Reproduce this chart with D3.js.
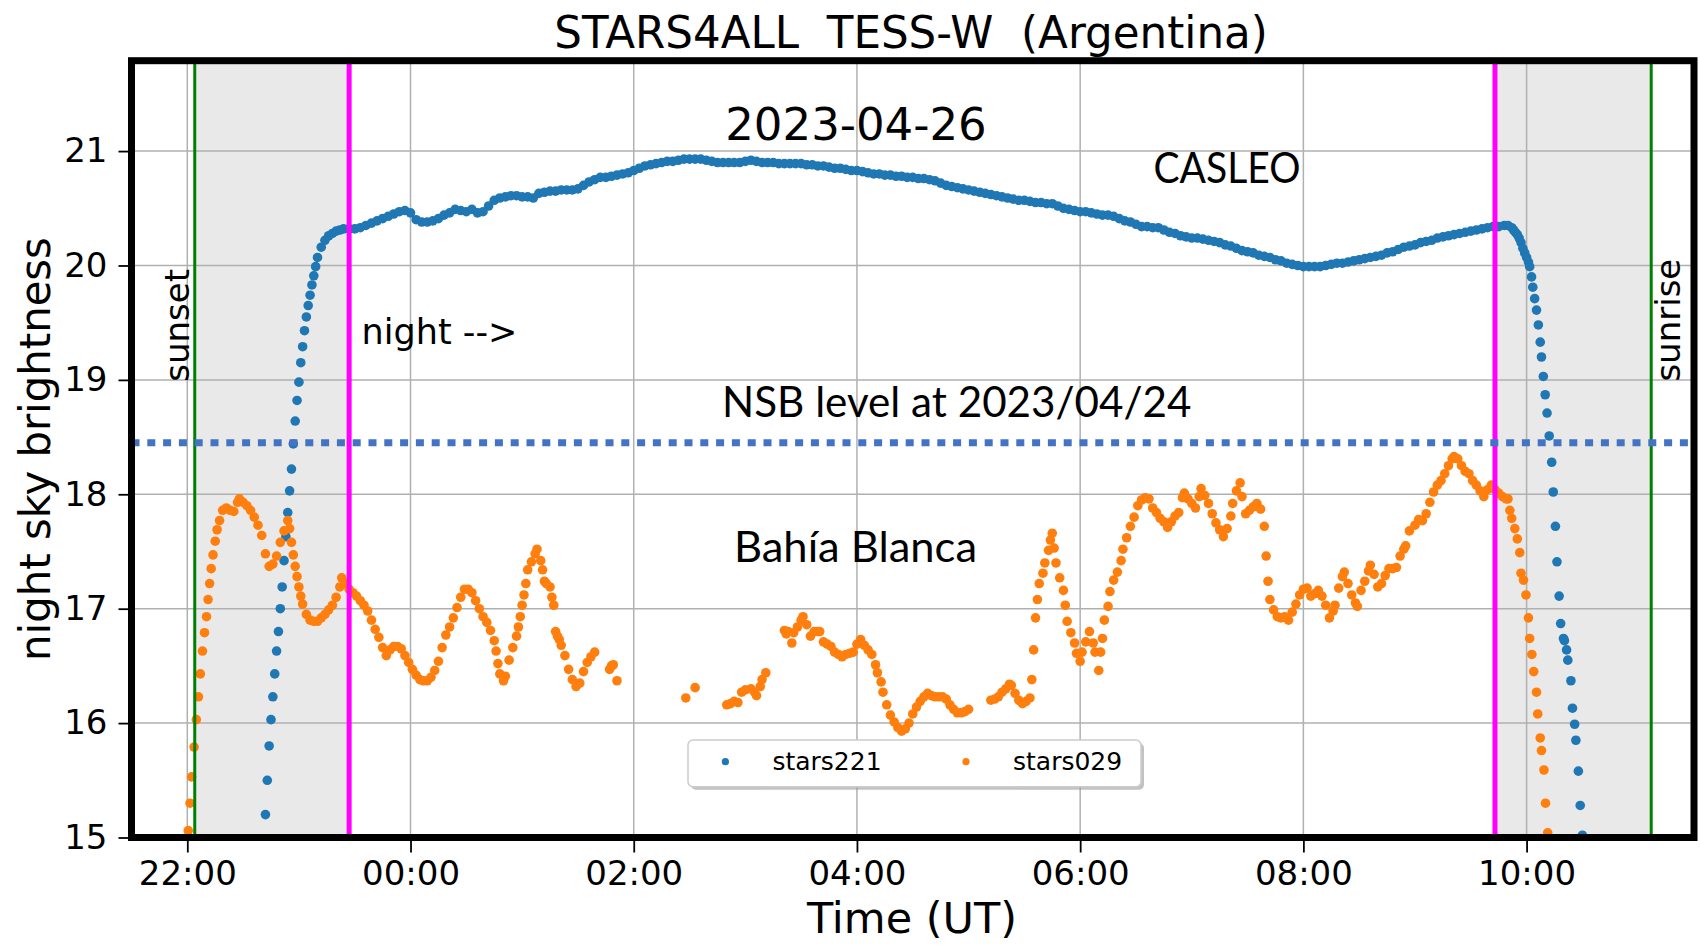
<!DOCTYPE html>
<html>
<head>
<meta charset="utf-8">
<script src="https://cdn.jsdelivr.net/npm/d3@7"></script>
<style>
body { margin: 0; background: #fff; }
svg { display: block; font-family: "DejaVu Sans", sans-serif; }
</style>
</head>
<body>
<svg id="chart" width="1700" height="951"></svg>
<script>
// stars221 (CASLEO), times UT
var blueTimes = [
  "22:42","22:43","22:44","22:45","22:46","22:47","22:48","22:49","22:50","22:51",
  "22:52","22:53","22:54","22:55","22:56","22:57","22:58","22:59","23:00","23:01",
  "23:02","23:03","23:04","23:05","23:06","23:07","23:08","23:09","23:10",
  "23:12","23:14","23:16","23:18","23:20","23:22","23:24",
  "23:27","23:30","23:33","23:36","23:39","23:42","23:45","23:48","23:51","23:54","23:57",
  "00:00","00:03","00:06","00:09","00:12","00:15","00:18","00:21","00:24","00:27","00:30","00:33","00:36","00:39","00:42","00:45","00:48","00:51","00:54","00:57",
  "01:00","01:03","01:06","01:09","01:12","01:15","01:18","01:21","01:24","01:27","01:30","01:33","01:36","01:39","01:42","01:45","01:48","01:51","01:54","01:57",
  "02:00","02:03","02:06","02:09","02:12","02:15","02:18","02:21","02:24","02:27","02:30","02:33","02:36","02:39","02:42","02:45","02:48","02:51","02:54","02:57",
  "03:00","03:03","03:06","03:09","03:12","03:15","03:18","03:21","03:24","03:27","03:30","03:33","03:36","03:39","03:42","03:45","03:48","03:51","03:54","03:57",
  "04:00","04:03","04:06","04:09","04:12","04:15","04:18","04:21","04:24","04:27","04:30","04:33","04:36","04:39","04:42","04:45","04:48","04:51","04:54","04:57",
  "05:00","05:03","05:06","05:09","05:12","05:15","05:18","05:21","05:24","05:27","05:30","05:33","05:36","05:39","05:42","05:45","05:48","05:51","05:54","05:57",
  "06:00","06:03","06:06","06:09","06:12","06:15","06:18","06:21","06:24","06:27","06:30","06:33","06:36","06:39","06:42","06:45","06:48","06:51","06:54","06:57",
  "07:00","07:03","07:06","07:09","07:12","07:15","07:18","07:21","07:24","07:27","07:30","07:33","07:36","07:39","07:42","07:45","07:48","07:51","07:54","07:57",
  "08:00","08:03","08:06","08:09","08:12","08:15","08:18","08:21","08:24","08:27","08:30","08:33","08:36","08:39","08:42","08:45","08:48","08:51","08:54","08:57",
  "09:00","09:03","09:06","09:09","09:12","09:15","09:18","09:21","09:24","09:27","09:30","09:33","09:36","09:39","09:42","09:45","09:48",
  "09:50","09:52","09:53","09:54","09:55","09:56","09:57","09:58","09:59","10:00","10:01",
  "10:01:40","10:02:40","10:03:20","10:04:20","10:05:20","10:06:20","10:07:20","10:08:00","10:09:00","10:10:00",
  "10:11:00","10:12:10","10:13:30","10:14:20","10:15:30","10:16:20","10:17:30","10:18:20","10:19:50","10:20:20",
  "10:21:30","10:22:10","10:23:50","10:24:40","10:25:50","10:26:30","10:27:50","10:28:50","10:30:00"
];
var blueValues = [
  15.20,15.50,15.80,16.03,16.23,16.43,16.63,16.80,17.00,17.19,
  17.42,17.63,17.84,18.03,18.22,18.44,18.64,18.82,18.98,19.15,
  19.29,19.43,19.55,19.65,19.74,19.83,19.91,19.99,20.07,
  20.16,20.22,20.26,20.28,20.30,20.31,20.32,
  20.32,20.32,20.33,20.35,20.37,20.39,20.41,20.43,20.45,20.47,20.48,
  20.46,20.40,20.38,20.38,20.39,20.41,20.44,20.46,20.49,20.48,20.47,20.49,20.46,20.47,20.52,20.57,20.59,20.60,20.61,20.61,
  20.60,20.60,20.59,20.63,20.64,20.65,20.65,20.66,20.66,20.66,20.67,20.70,20.73,20.75,20.77,20.77,20.78,20.79,20.80,20.81,
  20.83,20.85,20.87,20.88,20.89,20.90,20.91,20.91,20.92,20.93,20.93,20.93,20.93,20.92,20.91,20.90,20.90,20.90,20.90,20.90,
  20.91,20.92,20.91,20.90,20.90,20.90,20.89,20.89,20.89,20.89,20.89,20.88,20.88,20.87,20.87,20.86,20.85,20.85,20.84,20.83,
  20.83,20.82,20.81,20.80,20.80,20.79,20.79,20.78,20.78,20.77,20.77,20.76,20.76,20.75,20.74,20.72,20.70,20.69,20.68,20.67,
  20.66,20.65,20.64,20.63,20.62,20.61,20.60,20.59,20.58,20.57,20.57,20.56,20.55,20.55,20.54,20.54,20.52,20.50,20.49,20.48,
  20.47,20.47,20.46,20.45,20.44,20.44,20.43,20.41,20.39,20.38,20.36,20.34,20.34,20.33,20.33,20.31,20.29,20.28,20.26,20.25,
  20.24,20.24,20.23,20.22,20.21,20.20,20.18,20.17,20.15,20.13,20.12,20.11,20.09,20.08,20.07,20.05,20.04,20.02,20.01,20.00,
  19.99,19.99,19.99,19.99,20.00,20.01,20.02,20.02,20.03,20.04,20.05,20.06,20.07,20.08,20.09,20.11,20.12,20.14,20.16,20.17,
  20.18,20.20,20.21,20.22,20.24,20.25,20.26,20.27,20.28,20.29,20.30,20.31,20.32,20.33,20.34,20.34,20.35,
  20.35,20.33,20.31,20.29,20.27,20.24,20.20,20.15,20.11,20.07,20.03,
  19.99,19.90,19.81,19.71,19.61,19.48,19.33,19.20,19.03,18.87,
  18.71,18.51,18.28,18.02,17.72,17.41,17.11,16.87,16.74,16.72,
  16.64,16.55,16.37,16.13,15.99,15.85,15.58,15.28,15.02
];

// stars029 (Bahia Blanca), times UT
var orangeTimes = [
  "22:00:30","22:01:30","22:02:20","22:03:40","22:04:50","22:06:00","22:07:00","22:08:10","22:09:15","22:10:20",
  "22:11:10","22:12:00","22:12:50","22:13:50","22:15:00","22:16:00","22:17:20","22:19:00",
  "22:21","22:23","22:25","22:27","22:28","22:30","22:32","22:34","22:36","22:38",
  "22:40","22:42","22:44","22:46","22:48","22:50","22:52","22:54","22:55","22:56",
  "22:57","22:58","22:59","23:00","23:01","23:02","23:04","23:06","23:08","23:10",
  "23:12","23:14","23:16","23:18","23:20","23:22","23:23","23:25","23:27","23:29",
  "23:31","23:33","23:35","23:37","23:39","23:41","23:43","23:45","23:47","23:49",
  "23:51","23:53","23:55","23:57","23:59","00:01","00:03","00:05","00:07","00:09",
  "00:11","00:13","00:15","00:17","00:19","00:21","00:23","00:25","00:27","00:29",
  "00:31","00:33","00:35","00:37","00:39","00:41","00:43","00:45","00:46","00:47",
  "00:48","00:50","00:51","00:53","00:55","00:57","00:58","00:59","01:00","01:01",
  "01:02","01:03","01:05","01:07","01:08","01:10","01:11","01:12","01:13","01:15",
  "01:16","01:17","01:18","01:19","01:20","01:21","01:23","01:25","01:27","01:29",
  "01:31","01:33","01:35","01:37","01:39","01:47","01:48","01:49","01:51","02:28",
  "02:33","02:50","02:52","02:54","02:56","02:58","03:00","03:03","03:05","03:06",
  "03:08","03:09","03:11","03:21","03:22","03:23","03:25","03:26","03:28","03:30",
  "03:31","03:33","03:35","03:37","03:39","03:40","03:42","03:44","03:46","03:48",
  "03:50","03:52","03:54","03:56","03:58","04:00","04:02","04:04","04:06","04:08",
  "04:10","04:11","04:13","04:14","04:16","04:18","04:20","04:22","04:24","04:26",
  "04:28","04:30","04:32","04:34","04:36","04:38","04:40","04:42","04:44","04:46",
  "04:48","04:50","04:52","04:54","04:56","04:58","05:00","05:12","05:14","05:16",
  "05:18","05:20","05:22","05:23","05:25","05:27","05:29","05:31","05:33","05:34",
  "05:35","05:36","05:37","05:38","05:40","05:41","05:43","05:44","05:45","05:46",
  "05:47","05:49","05:51","05:52","05:53","05:55","05:57","05:58","06:00","06:01",
  "06:03","06:05","06:07","06:08","06:10","06:11","06:12","06:13","06:15","06:16",
  "06:18","06:20","06:22","06:23","06:25","06:27","06:29","06:31","06:33","06:35",
  "06:37","06:39","06:41","06:43","06:45","06:47","06:49","06:51","06:53","06:55",
  "06:56","06:58","07:00","07:02","07:04","07:05","07:07","07:09","07:11","07:13",
  "07:15","07:17","07:19","07:21","07:22","07:24","07:26","07:27","07:29","07:31",
  "07:33","07:35","07:37","07:39","07:40","07:41","07:42","07:44","07:46","07:48",
  "07:50","07:52","07:54","07:56","07:58","08:00","08:02","08:04","08:06","08:08",
  "08:10","08:12","08:14","08:16","08:17","08:19","08:21","08:22","08:24","08:26",
  "08:28","08:29","08:31","08:33","08:35","08:36","08:38","08:40","08:42","08:44",
  "08:46","08:48","08:50","08:52","08:54","08:55","08:57","09:00","09:02","09:04",
  "09:06","09:08","09:10","09:12","09:14","09:16","09:18","09:20","09:21","09:23",
  "09:25","09:27","09:29","09:31","09:33","09:35","09:37","09:39","09:41","09:43",
  "09:45","09:47","09:49","09:50","09:51","09:52","09:53:40","09:55","09:56:20","09:57",
  "09:58:20","09:59:40","10:01","10:01:40","10:02:50","10:03:50","10:05:20","10:06","10:07:20","10:08",
  "10:09:20","10:10:10","10:11:20"
];
var orangeValues = [
  15.06,15.30,15.53,15.79,16.03,16.23,16.43,16.63,16.79,16.93,
  17.08,17.22,17.35,17.47,17.59,17.69,17.77,17.86,
  17.88,17.86,17.85,17.93,17.96,17.93,17.90,17.86,17.80,17.73,
  17.64,17.48,17.37,17.39,17.46,17.58,17.68,17.77,17.70,17.58,
  17.47,17.37,17.28,17.19,17.11,17.04,16.95,16.90,16.89,16.89,
  16.92,16.95,16.99,17.03,17.10,17.19,17.27,17.22,17.17,17.14,
  17.11,17.07,17.03,16.98,16.90,16.82,16.75,16.66,16.59,16.64,
  16.67,16.67,16.65,16.59,16.53,16.47,16.42,16.38,16.37,16.37,
  16.40,16.46,16.54,16.66,16.77,16.84,16.92,17.01,17.10,17.17,
  17.17,17.14,17.07,17.00,16.93,16.88,16.81,16.72,16.63,16.52,
  16.43,16.37,16.41,16.55,16.66,16.76,16.84,16.93,17.03,17.12,
  17.22,17.34,17.41,17.48,17.52,17.42,17.34,17.24,17.22,17.19,
  17.10,17.03,16.80,16.76,16.73,16.68,16.59,16.47,16.38,16.32,
  16.35,16.45,16.53,16.58,16.62,16.47,16.50,16.51,16.37,16.22,
  16.31,16.16,16.17,16.19,16.18,16.27,16.29,16.30,16.27,16.24,
  16.32,16.38,16.44,16.81,16.78,16.80,16.70,16.79,16.84,16.90,
  16.93,16.86,16.76,16.80,16.80,16.80,16.71,16.69,16.67,16.62,
  16.60,16.58,16.60,16.61,16.62,16.69,16.73,16.68,16.64,16.60,
  16.51,16.44,16.36,16.27,16.16,16.07,16.01,15.96,15.93,15.95,
  16.00,16.08,16.14,16.19,16.23,16.26,16.24,16.23,16.23,16.23,
  16.21,16.16,16.12,16.09,16.09,16.10,16.12,16.20,16.21,16.23,
  16.27,16.30,16.34,16.33,16.26,16.20,16.17,16.19,16.22,16.38,
  16.64,16.92,17.08,17.22,17.31,17.40,17.51,17.60,17.66,17.53,
  17.40,17.27,17.16,17.03,16.89,16.79,16.70,16.61,16.54,16.62,
  16.71,16.80,16.70,16.62,16.46,16.62,16.74,16.90,17.02,17.15,
  17.25,17.32,17.42,17.52,17.62,17.72,17.80,17.90,17.95,17.97,
  17.96,17.88,17.84,17.79,17.76,17.71,17.76,17.81,17.84,17.97,
  18.01,17.96,17.92,17.88,17.98,18.05,17.99,17.92,17.83,17.75,
  17.69,17.63,17.70,17.81,17.92,18.03,18.10,17.98,17.83,17.86,
  17.89,17.92,17.87,17.72,17.46,17.24,17.08,16.99,16.93,16.92,
  16.93,16.90,16.97,17.04,17.12,17.17,17.18,17.11,17.13,17.16,
  17.11,17.03,16.92,16.98,17.03,17.18,17.28,17.32,17.22,17.12,
  17.05,17.02,17.16,17.24,17.33,17.38,17.30,17.19,17.22,17.29,
  17.35,17.35,17.36,17.46,17.52,17.55,17.68,17.73,17.78,17.77,
  17.83,17.93,18.02,18.08,18.12,18.18,18.25,18.31,18.33,18.31,
  18.25,18.20,18.18,18.12,18.08,18.03,17.98,18.04,18.08,18.04,
  18.01,17.98,17.96,17.96,17.86,17.79,17.70,17.61,17.49,17.31,
  17.25,17.12,16.92,16.74,16.60,16.45,16.27,16.08,15.87,15.76,
  15.59,15.30,15.04
];

var seriesNames = ["stars221", "stars029"];
var seriesColors = ["#1f77b4", "#ff7f0e"];
var yTicks = [15, 16, 17, 18, 19, 20, 21];
var xTicks = ["22:00", "00:00", "02:00", "04:00", "06:00", "08:00", "10:00"];
var timeRange = ["21:30", "11:30"];
var sunsetTime = "22:04", sunriseTime = "11:07";
var nightStart = "23:27", nightEnd = "09:43";
var nsbLevel = 18.45;

// night of 2023-04-25 -> 26, afternoon hours belong to the first day
var parseFull = d3.utcParse("%Y-%m-%d %H:%M:%S");
function toDate(s) {
  if (s.length === 5) s = s + ":00";
  var day = +s.slice(0, 2) >= 12 ? "2023-04-25" : "2023-04-26";
  return parseFull(day + " " + s);
}

var svg = d3.select("#chart");

var plot = { left: 131.5, right: 1694, top: 60.7, bottom: 837.5 };

var x = d3.scaleUtc()
  .domain(timeRange.map(toDate))
  .range([plot.left, plot.right]);

var y = d3.scaleLinear()
  .domain([15, 21.79])
  .range([plot.bottom, plot.top]);

svg.append("defs").append("clipPath").attr("id", "plotclip")
  .append("rect")
  .attr("x", plot.left).attr("y", plot.top)
  .attr("width", plot.right - plot.left).attr("height", plot.bottom - plot.top);

var g = svg.append("g").attr("clip-path", "url(#plotclip)");

// twilight spans
g.selectAll("rect.span")
  .data([[sunsetTime, nightStart], [nightEnd, sunriseTime]])
  .join("rect")
  .attr("class", "span")
  .attr("x", d => x(toDate(d[0])))
  .attr("width", d => x(toDate(d[1])) - x(toDate(d[0])))
  .attr("y", plot.top)
  .attr("height", plot.bottom - plot.top)
  .attr("fill", "#e9e9e9");

// grid
g.selectAll("line.gy")
  .data(yTicks)
  .join("line")
  .attr("x1", plot.left).attr("x2", plot.right)
  .attr("y1", d => y(d)).attr("y2", d => y(d))
  .attr("stroke", "#b0b0b0").attr("stroke-width", 1.5);

g.selectAll("line.gx")
  .data(xTicks)
  .join("line")
  .attr("x1", d => x(toDate(d))).attr("x2", d => x(toDate(d)))
  .attr("y1", plot.top).attr("y2", plot.bottom)
  .attr("stroke", "#b0b0b0").attr("stroke-width", 1.5);

// data dots
var blue = d3.zip(blueTimes, blueValues);
var orange = d3.zip(orangeTimes, orangeValues);

g.append("g").selectAll("circle")
  .data(blue)
  .join("circle")
  .attr("cx", d => x(toDate(d[0])))
  .attr("cy", d => y(d[1]))
  .attr("r", 4.8)
  .attr("fill", seriesColors[0]);

g.append("g").selectAll("circle")
  .data(orange)
  .join("circle")
  .attr("cx", d => x(toDate(d[0])))
  .attr("cy", d => y(d[1]))
  .attr("r", 4.8)
  .attr("fill", seriesColors[1]);

// sunset / sunrise and night limits
g.selectAll("line.sun")
  .data([sunsetTime, sunriseTime])
  .join("line")
  .attr("x1", d => x(toDate(d))).attr("x2", d => x(toDate(d)))
  .attr("y1", plot.top).attr("y2", plot.bottom)
  .attr("stroke", "green").attr("stroke-width", 3);

g.selectAll("line.night")
  .data([nightStart, nightEnd])
  .join("line")
  .attr("x1", d => x(toDate(d))).attr("x2", d => x(toDate(d)))
  .attr("y1", plot.top).attr("y2", plot.bottom)
  .attr("stroke", "#ff00ff").attr("stroke-width", 5);

// NSB reference level
g.append("line")
  .attr("x1", plot.left).attr("x2", plot.right)
  .attr("y1", y(nsbLevel)).attr("y2", y(nsbLevel))
  .attr("stroke", "#4472c4")
  .attr("stroke-width", 7)
  .attr("stroke-dasharray", "8 7.8");

// axes
var yAxis = svg.append("g")
  .attr("transform", "translate(" + plot.left + ",0)")
  .call(d3.axisLeft(y).tickValues(yTicks).tickFormat(d3.format("d")).tickSize(13).tickPadding(11));

var xAxis = svg.append("g")
  .attr("transform", "translate(0," + plot.bottom + ")")
  .call(d3.axisBottom(x).tickValues(xTicks.map(toDate)).tickFormat(d3.utcFormat("%H:%M")).tickSize(15).tickPadding(8));

[yAxis, xAxis].forEach(function(a) {
  a.select(".domain").remove();
  a.selectAll(".tick line").attr("stroke", "#000").attr("stroke-width", 1.8);
  a.selectAll(".tick text")
    .attr("fill", "#000")
    .style("font-family", "DejaVu Sans")
    .style("font-size", "34px");
});

// frame
svg.append("rect")
  .attr("x", plot.left).attr("y", plot.top)
  .attr("width", plot.right - plot.left).attr("height", plot.bottom - plot.top)
  .attr("fill", "none").attr("stroke", "#000").attr("stroke-width", 7);

// titles and labels
svg.append("text")
  .attr("x", 911).attr("y", 48.3)
  .attr("text-anchor", "middle")
  .style("font-size", "43.6px")
  .style("white-space", "pre")
  .text("STARS4ALL  TESS-W  (Argentina)");

svg.append("text")
  .attr("x", 912).attr("y", 933)
  .attr("text-anchor", "middle")
  .style("font-size", "43px")
  .text("Time (UT)");

svg.append("text")
  .attr("transform", "translate(50,449) rotate(-90)")
  .attr("text-anchor", "middle")
  .style("font-size", "41.8px")
  .text("night sky brightness");

svg.append("text")
  .attr("x", 856).attr("y", 140)
  .attr("text-anchor", "middle")
  .style("font-size", "45px")
  .text("2023-04-26");

svg.append("text")
  .attr("x", 361.6).attr("y", 344)
  .style("font-size", "35px")
  .text("night -->");

svg.append("text")
  .attr("transform", "translate(189.4,381.7) rotate(-90)")
  .style("font-size", "34px")
  .text("sunset");

svg.append("text")
  .attr("transform", "translate(1679.8,381.6) rotate(-90)")
  .style("font-size", "34px")
  .text("sunrise");

// slide annotations
var notes = [
  { t: "CASLEO", x: 1153.5, y: 183, w: 147 },
  { t: "NSB level at 2023/04/24", x: 722, y: 416.7, w: 469.5 },
  { t: "Bahía Blanca", x: 734, y: 561.7, w: 243 }
];
svg.selectAll("text.note")
  .data(notes)
  .join("text")
  .attr("class", "note")
  .attr("x", d => d.x).attr("y", d => d.y)
  .attr("textLength", d => d.w)
  .attr("lengthAdjust", "spacingAndGlyphs")
  .style("font-family", "Lato, 'Open Sans', sans-serif")
  .style("font-size", "42px")
  .text(d => d.t);

// legend
var legend = svg.append("g").attr("transform", "translate(688,740)");
legend.append("rect")
  .attr("x", 3).attr("y", 3).attr("width", 453).attr("height", 46.7).attr("rx", 5)
  .attr("fill", "#999").attr("opacity", 0.6);
legend.append("rect")
  .attr("width", 453).attr("height", 46.7).attr("rx", 5)
  .attr("fill", "#fff").attr("stroke", "#cccccc").attr("stroke-width", 1.5);

var items = legend.selectAll("g.item")
  .data(seriesNames)
  .join("g")
  .attr("transform", (d, i) => "translate(" + (37.4 + i * 240.6) + ",21.7)");
items.append("circle")
  .attr("r", 3.6)
  .attr("fill", (d, i) => seriesColors[i]);
items.append("text")
  .attr("x", 47).attr("y", 8.3)
  .style("font-size", "25px")
  .text(d => d);
</script>
</body>
</html>
